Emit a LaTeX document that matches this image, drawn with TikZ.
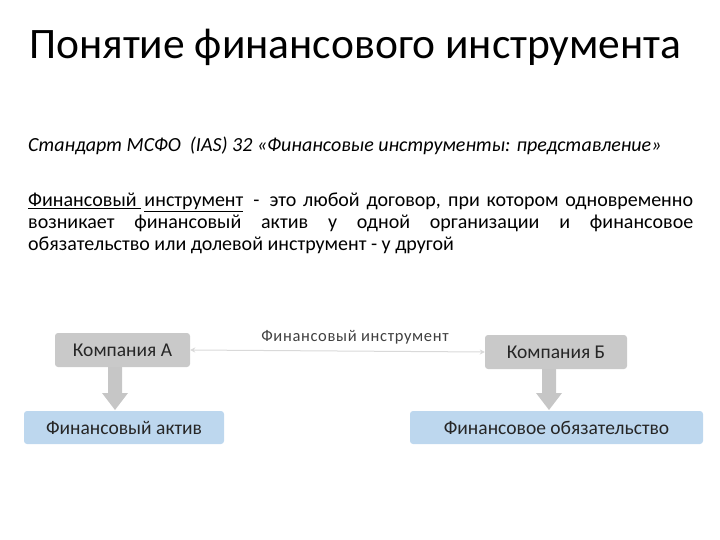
\documentclass[tikz,border=0pt]{standalone}
\usepackage{fontspec}
\setmainfont{Carlito}
\usetikzlibrary{shapes.arrows,arrows.meta}
\definecolor{boxgray}{HTML}{C9C9C9}
\definecolor{boxblue}{HTML}{BDD7EE}
\definecolor{linegray}{HTML}{D9D9D9}
\definecolor{arrowgray}{HTML}{C6C6C6}
\begin{document}
\begin{tikzpicture}[x=1pt,y=-1pt,
  graybox/.style={fill=boxgray,rounded corners=3pt,inner sep=0pt,font=\fontsize{19.5}{22}\selectfont,text=black!85},
  bluebox/.style={fill=boxblue,rounded corners=3pt,inner sep=0pt,font=\fontsize{19.5}{22}\selectfont,text=black!85},
  blockarrow/.style={fill=arrowgray,draw=none}]
\useasboundingbox (0,0) rectangle (720,540);
\node[anchor=base west,inner sep=0pt,font=\fontsize{43.5}{50}\selectfont] (title) at (29,59) {Понятие финансового инструмента};
\node[anchor=base west,inner sep=0pt,font=\fontsize{20}{24}\selectfont\itshape] (std) at (28,152) {Стандарт МСФО \ (IAS) 32 «Финансовые инструменты: представление»};
\node[anchor=north west,inner sep=0pt,text width=665pt,align=justify,font=\fontsize{20}{22}\selectfont] (def) at (28,193) {\underline{Финансовый\ }\,\underline{инструмент} \,-\, это любой договор, при котором одновременно\linebreak возникает финансовый актив у одной организации и финансовое\linebreak обязательство или долевой инструмент - у другой};
\node[graybox,minimum width=135pt,minimum height=34pt] (a) at (122.5,350) {Компания А};
\node[graybox,minimum width=142pt,minimum height=34pt] (b) at (556,352) {Компания Б};
\node[bluebox,minimum width=200pt,minimum height=33pt] (fa) at (124,427.5) {Финансовый актив};
\node[bluebox,minimum width=293pt,minimum height=33pt] (fo) at (556.5,427.5) {Финансовое обязательство};
\draw[linegray,line width=1pt,{Stealth[length=5pt,width=5pt]}-{Stealth[length=5pt,width=5pt]}] (a.east) -- (b.west);
\node[anchor=base,inner sep=0pt,font=\fontsize{16.5}{19}\selectfont\addfontfeatures{LetterSpace=4},text=black!75] (lbl) at (355,341) {Финансовый инструмент};
\fill[blockarrow] (108,367) -- (122,367) -- (122,393) -- (128,393) -- (115,410) -- (102,393) -- (108,393) -- cycle;
\fill[blockarrow] (542,369) -- (556,369) -- (556,393) -- (562,393) -- (549,410) -- (536,393) -- (542,393) -- cycle;
\end{tikzpicture}
\end{document}
